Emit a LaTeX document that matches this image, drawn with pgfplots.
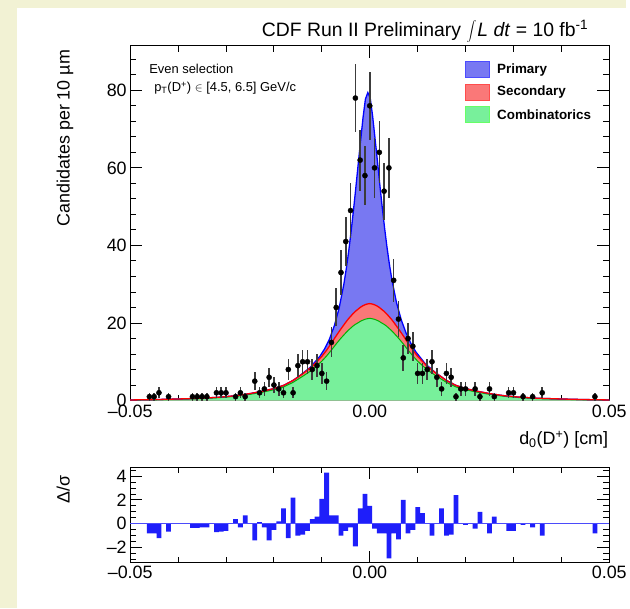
\documentclass[border=0pt]{standalone}
\usepackage{pgfplots}
\pgfplotsset{compat=1.18}
\usepackage{fontspec}
\setmainfont{Liberation Sans}
\definecolor{bgbeige}{RGB}{242,242,212}
\definecolor{bluefill}{RGB}{120,120,242}
\definecolor{redfill}{RGB}{250,120,120}
\definecolor{greenfill}{RGB}{120,240,155}
\definecolor{resblue}{RGB}{30,30,250}
\definecolor{errgray}{RGB}{60,60,60}

\pgfplotstableread{
x y
-0.050 0.15
-0.045 0.25
-0.040 0.40
-0.035 0.60
-0.031 0.90
-0.028 1.25
-0.025 1.80
-0.022 2.50
-0.020 3.10
-0.018 3.90
-0.016 5.20
-0.0144 6.61
-0.0124 8.57
-0.0104 11.43
-0.0094 13.36
-0.0084 15.88
-0.0074 19.24
-0.0064 23.78
-0.0054 30.02
-0.0049 33.96
-0.0044 38.44
-0.0039 43.44
-0.0034 49.02
-0.0029 54.90
-0.0024 61.10
-0.0019 67.08
-0.0014 72.96
-0.0009 77.74
-0.0004 79.42
0.0001 78.00
0.0006 73.36
0.0011 67.64
0.0016 61.82
0.0021 55.70
0.0026 49.90
0.0031 44.48
0.0036 39.56
0.0041 35.16
0.0046 31.34
0.0056 25.18
0.0066 20.72
0.0076 17.36
0.0086 14.72
0.0096 12.59
0.0116 9.47
0.0136 7.33
0.016 5.20
0.018 3.90
0.020 3.10
0.022 2.50
0.025 1.80
0.028 1.25
0.031 0.90
0.035 0.60
0.040 0.40
0.045 0.25
0.050 0.15
}\totaltab

\pgfplotstableread{
x y
-0.050 0.15
-0.045 0.25
-0.040 0.40
-0.035 0.60
-0.031 0.90
-0.028 1.25
-0.025 1.80
-0.022 2.50
-0.020 3.10
-0.018 3.90
-0.016 5.20
-0.014 6.90
-0.012 8.80
-0.010 11.40
-0.009 13.00
-0.008 14.80
-0.007 16.70
-0.006 18.50
-0.005 20.20
-0.0045 21.00
-0.004 21.70
-0.0035 22.40
-0.003 23.00
-0.0025 23.50
-0.002 24.00
-0.0015 24.40
-0.001 24.70
-0.0005 24.90
0.000 25.00
0.0005 24.90
0.001 24.70
0.0015 24.40
0.002 24.00
0.0025 23.50
0.003 23.00
0.0035 22.40
0.004 21.70
0.0045 21.00
0.005 20.20
0.006 18.50
0.007 16.70
0.008 14.80
0.009 13.00
0.010 11.40
0.012 8.80
0.014 6.90
0.016 5.20
0.018 3.90
0.020 3.10
0.022 2.50
0.025 1.80
0.028 1.25
0.031 0.90
0.035 0.60
0.040 0.40
0.045 0.25
0.050 0.15
}\sectab

\pgfplotstableread{
x y
-0.050 0.10
-0.045 0.19
-0.040 0.32
-0.035 0.50
-0.031 0.78
-0.028 1.10
-0.025 1.60
-0.022 2.25
-0.020 2.80
-0.018 3.50
-0.016 4.70
-0.014 6.25
-0.012 7.90
-0.010 10.15
-0.009 11.50
-0.008 13.00
-0.007 14.60
-0.006 16.10
-0.005 17.45
-0.0045 18.10
-0.004 18.65
-0.0035 19.20
-0.003 19.65
-0.0025 20.00
-0.002 20.40
-0.0015 20.70
-0.001 20.95
-0.0005 21.10
0.000 21.20
0.0005 21.10
0.001 20.95
0.0015 20.70
0.002 20.40
0.0025 20.00
0.003 19.65
0.0035 19.20
0.004 18.65
0.0045 18.10
0.005 17.45
0.006 16.10
0.007 14.60
0.008 13.00
0.009 11.50
0.010 10.15
0.012 7.90
0.014 6.25
0.016 4.70
0.018 3.50
0.020 2.80
0.022 2.25
0.025 1.60
0.028 1.10
0.031 0.78
0.035 0.50
0.040 0.32
0.045 0.19
0.050 0.10
}\combtab

\pgfplotstableread{
x y e
-0.046 1 1
-0.045 1 1
-0.044 2 1.41
-0.042 1 1
-0.037 1 1
-0.036 1 1
-0.035 1 1
-0.034 1 1
-0.032 2 1.41
-0.031 2 1.41
-0.030 2 1.41
-0.028 1 1
-0.027 2 1.41
-0.026 1 1
-0.024 5 2.24
-0.023 2 1.41
-0.022 3 1.73
-0.021 6 2.45
-0.020 4 2
-0.019 3 1.73
-0.018 2 1.41
-0.017 8 2.83
-0.016 2 1.41
-0.015 9 3
-0.014 10 3.16
-0.013 10 3.16
-0.012 8 2.83
-0.011 9 3
-0.010 7 2.65
-0.009 5 2.24
-0.008 15 3.87
-0.007 24 4.90
-0.006 33 5.74
-0.005 41 6.40
-0.004 49 7
-0.003 78 8.83
-0.002 62 7.87
-0.001 58 7.62
0.000 76 8.72
0.001 60 7.75
0.002 64 8
0.003 54 7.35
0.004 60 7.75
0.005 31 5.57
0.006 21 4.58
0.007 11 3.32
0.008 16 4
0.009 14 3.74
0.010 7 2.65
0.011 7 2.65
0.012 8 2.83
0.013 10 3.16
0.014 6 2.45
0.015 3 1.73
0.016 7 2.65
0.017 6 2.45
0.018 1 1
0.019 3 1.73
0.020 3 1.73
0.022 3 1.73
0.023 1 1
0.025 3 1.73
0.026 1 1
0.029 2 1.41
0.030 2 1.41
0.032 1 1
0.034 1 1
0.036 2 1.41
0.047 1 1
}\datatab

\pgfplotstableread{
x r
-0.046 -0.8
-0.045 -0.8
-0.044 -1.2
-0.042 -0.65
-0.037 -0.35
-0.036 -0.35
-0.035 -0.3
-0.034 -0.3
-0.032 -0.7
-0.031 -0.65
-0.030 -0.6
-0.028 0.4
-0.027 -0.3
-0.026 0.7
-0.024 -1.4
-0.023 0.15
-0.022 -0.3
-0.021 -1.4
-0.020 -0.5
-0.019 0.2
-0.018 1.3
-0.017 -1.2
-0.016 2.2
-0.015 -1.0
-0.014 -0.9
-0.013 -0.6
-0.012 0.4
-0.011 0.6
-0.010 2.1
-0.009 4.3
-0.008 0.7
-0.007 0.7
-0.006 -1.0
-0.005 -0.6
-0.004 -0.3
-0.003 -1.9
-0.002 1.3
-0.001 2.5
0.000 1.5
0.001 -0.4
0.002 -0.8
0.003 -0.8
0.004 -2.9
0.005 -0.8
0.006 -1.3
0.007 2.0
0.008 -0.8
0.009 -0.5
0.010 1.4
0.011 0.9
0.012 0.0
0.013 -1.0
0.015 1.3
0.016 -1.0
0.017 -0.9
0.018 2.4
0.020 -0.1
0.022 -0.4
0.023 1.0
0.025 -0.8
0.026 0.6
0.029 -0.6
0.030 -0.6
0.032 -0.1
0.034 -0.3
0.036 -1.0
0.047 -0.8
}\restab

\begin{document}
\begin{tikzpicture}[x=1pt,y=1pt]
\fill[bgbeige] (0,0) rectangle (630,612);
\fill[white] (17,0) rectangle (630,604);

\begin{axis}[
  at={(131pt,209pt)}, anchor=south west,
  width=482pt, height=357pt, scale only axis,
  xmin=-0.05, xmax=0.05, ymin=0, ymax=91.5,
  scaled x ticks=false, scaled y ticks=false,
  axis line style={line width=1.1pt},
  tick align=inside, tick style={black, line width=0.9pt},
  major tick length=12pt, minor tick length=6pt,
  xtick={-0.05,0,0.05}, xticklabels={\textendash0.05,0.00,0.05},
  minor xtick={-0.04,-0.03,-0.02,-0.01,0.01,0.02,0.03,0.04},
  ytick={0,20,40,60,80},
  minor ytick={4,8,12,16,24,28,32,36,44,48,52,56,64,68,72,76,84,88},
  /pgf/number format/assume math mode=true,
  ticklabel style={font=\fontsize{18}{20}\selectfont},
  xticklabel style={yshift=-1pt},
  clip=true,
]
\addplot[fill=bluefill, draw=none] table[x=x,y=y] {\totaltab} \closedcycle;
\addplot[fill=redfill, draw=none] table[x=x,y=y] {\sectab} \closedcycle;
\addplot[fill=greenfill, draw=none] table[x=x,y=y] {\combtab} \closedcycle;
\addplot[draw=green!70!black, line width=1pt] table[x=x,y=y] {\combtab};
\addplot[draw=blue, line width=1.3pt] table[x=x,y=y] {\totaltab};
\addplot[draw=red, line width=1.3pt] table[x=x,y=y] {\sectab};
\addplot[only marks, mark=*, mark size=2.6pt, black,
  error bars/.cd, y dir=both, y explicit,
  error bar style={errgray, line width=1.6pt}, error mark=none]
  table[x=x,y=y,y error=e] {\datatab};
\end{axis}

\begin{axis}[
  at={(131pt,46pt)}, anchor=south west,
  width=482pt, height=96pt, scale only axis,
  xmin=-0.05, xmax=0.05, ymin=-3.25, ymax=4.75,
  scaled x ticks=false, scaled y ticks=false,
  axis line style={line width=1.1pt},
  tick align=inside, tick style={black, line width=0.9pt},
  major tick length=12pt, minor tick length=6pt,
  xtick={-0.05,0,0.05}, xticklabels={\textendash0.05,0.00,0.05},
  minor xtick={-0.04,-0.03,-0.02,-0.01,0.01,0.02,0.03,0.04},
  ytick={-2,0,2,4}, yticklabels={\textendash2,0,2,4},
  minor ytick={-3,-2.5,-1.5,-1,-0.5,0.5,1,1.5,2.5,3,3.5,4.5},
  ticklabel style={font=\fontsize{18}{20}\selectfont},
  clip=true,
]
\addplot[ybar, bar width=0.001, fill=resblue, draw=none] table[x=x,y=r] {\restab};
\addplot[resblue!80, line width=0.8pt] coordinates {(-0.05,0) (0.05,0)};
\end{axis}

% texts
\node[anchor=base east, font=\fontsize{19.5}{21}\selectfont, inner sep=0pt] at (592,575)
  {CDF Run II Preliminary $\displaystyle\int$\kern1pt\textit{L dt} = 10 fb\textsuperscript{-1}};
\node[rotate=90, anchor=base east, font=\fontsize{18}{20}\selectfont, inner sep=0pt] at (70,562)
  {Candidates per 10 µm};
\node[rotate=90, anchor=base east, font=\fontsize{18}{20}\selectfont, inner sep=0pt] at (70,134)
  {Δ/σ};
\node[anchor=base east, font=\fontsize{18}{20}\selectfont, inner sep=0pt] at (612,165)
  {d\textsubscript{0}(D\textsuperscript{+}) [cm]};
\node[anchor=base west, font=\fontsize{13}{15}\selectfont, inner sep=0pt] at (150,538)
  {Even selection};
\node[anchor=base west, font=\fontsize{13}{15}\selectfont, inner sep=0pt] at (155,520)
  {p\textsubscript{T}(D\textsuperscript{+}) $\in$ [4.5, 6.5] GeV/c};
% legend
\fill[bluefill, draw=blue!70, line width=0.6pt] (468,534) rectangle (492,550);
\fill[redfill, draw=red!70, line width=0.6pt] (468,511) rectangle (492,527);
\fill[greenfill, draw=green!60, line width=0.6pt] (468,489) rectangle (492,505);
\node[anchor=west, font=\bfseries\fontsize{13.5}{15}\selectfont, inner sep=0pt] at (500,542) {Primary};
\node[anchor=west, font=\bfseries\fontsize{13.5}{15}\selectfont, inner sep=0pt] at (500,519) {Secondary};
\node[anchor=west, font=\bfseries\fontsize{13.5}{15}\selectfont, inner sep=0pt] at (500,497) {Combinatorics};
\end{tikzpicture}
\end{document}
